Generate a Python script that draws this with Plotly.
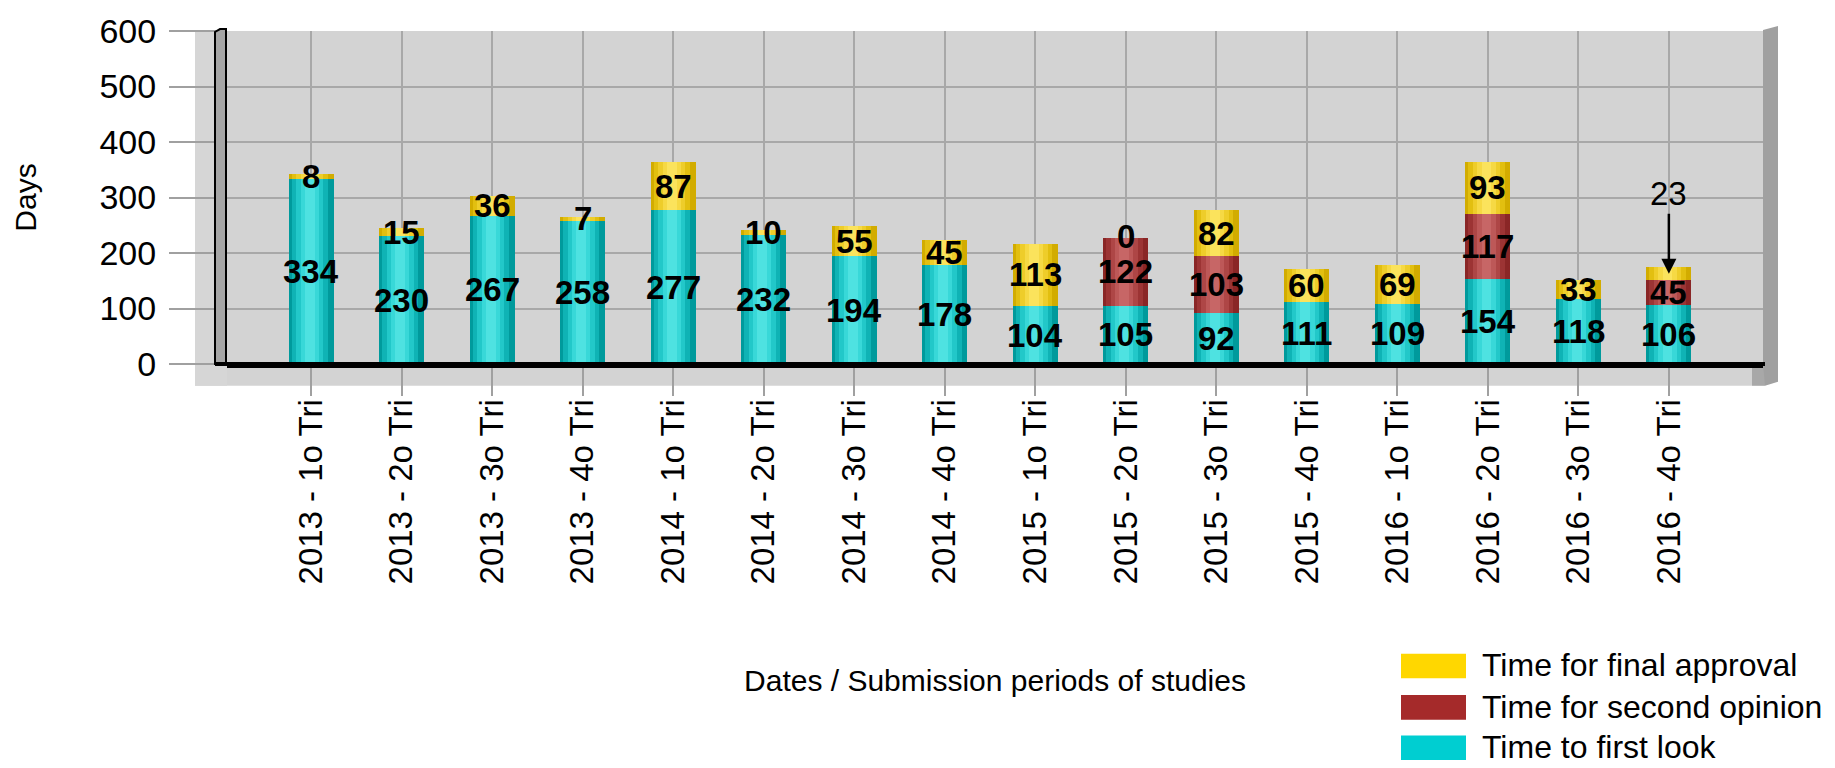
import plotly.graph_objects as go

# ---------------- data ----------------
categories = ["2013 - 1o Tri", "2013 - 2o Tri", "2013 - 3o Tri", "2013 - 4o Tri",
              "2014 - 1o Tri", "2014 - 2o Tri", "2014 - 3o Tri", "2014 - 4o Tri",
              "2015 - 1o Tri", "2015 - 2o Tri", "2015 - 3o Tri", "2015 - 4o Tri",
              "2016 - 1o Tri", "2016 - 2o Tri", "2016 - 3o Tri", "2016 - 4o Tri"]
first_look = [334, 230, 267, 258, 277, 232, 194, 178, 104, 105, 92, 111, 109, 154, 118, 106]
second_opinion = [None, None, None, None, None, None, None, None, None, 122, 103, None, None, 117, None, 45]
final_approval = [8, 15, 36, 7, 87, 10, 55, 45, 113, 0, 82, 60, 69, 93, 33, 23]
y_ticks = [0, 100, 200, 300, 400, 500, 600]

series_names = ["Time to first look", "Time for second opinion", "Time for final approval"]
series_values = [first_look, second_opinion, final_approval]
legend_colors = ["#00CED1", "#A52A2A", "#FFD700"]
# cylinder shading, edge -> centre
shades = [
    ["#009a9c", "#0fb3b5", "#22c8c9", "#38d8d8", "#4ee2e1"],
    ["#8a2626", "#9c3434", "#ae4646", "#bd5858", "#c76666"],
    ["#d2ac00", "#e2bf10", "#eecd2a", "#f6d944", "#fbe35c"],
]
shade_widths = [0.5, 0.40, 0.30, 0.20, 0.11]

# ---------------- geometry (pixels) ----------------
W, H = 1835, 768
L, R, T, B = 227, 1763, 26, 364


def px(x):
    return (x - L) / (R - L)


def py(y):
    return (B - y) / (B - T)


FONT = "Liberation Sans, Arial, sans-serif"

fig = go.Figure()

n = len(categories)
xs = list(range(n))
bases = [0] * n
label_annotations = []
for si, (name, vals) in enumerate(zip(series_names, series_values)):
    seg_x, seg_y, seg_base = [], [], []
    for i, v in enumerate(vals):
        if v is None:
            continue
        seg_x.append(i)
        seg_y.append(v)
        seg_base.append(bases[i])
    for k, (w, c) in enumerate(zip(shade_widths, shades[si])):
        off = -w / 2 - (0.015 if k > 0 else 0)
        fig.add_trace(go.Bar(
            x=seg_x, y=seg_y, base=seg_base, width=w, offset=off,
            marker=dict(color=c, line=dict(width=0)),
            name=name, showlegend=False, hoverinfo="skip"))
    for xi, v, b in zip(seg_x, seg_y, seg_base):
        ann = dict(x=xi, y=b + v / 2, xref="x", yref="y", text=str(v),
                   showarrow=False, yshift=2 if v == 0 else 0,
                   font=dict(family=FONT, size=33, color="black", weight="bold"))
        if si == 2 and xi == n - 1:
            ann.update(showarrow=True, arrowhead=2, arrowsize=1.2, arrowwidth=2.5,
                       arrowcolor="black", ax=0, ay=-80,
                       font=dict(family=FONT, size=33, color="black", weight="normal"))
        label_annotations.append(ann)
    for xi, v in zip(seg_x, seg_y):
        bases[xi] += v

# ---------------- decorative 3-D frame ----------------
shapes = [
    # floor and left side of back panel
    dict(type="rect", xref="paper", yref="paper", x0=px(195), x1=px(1765), y0=py(386), y1=py(364),
         fillcolor="#d3d3d3", line=dict(width=0), layer="below"),
    dict(type="rect", xref="paper", yref="paper", x0=px(195), x1=px(227), y0=py(386), y1=py(27),
         fillcolor="#d6d6d6", line=dict(width=0), layer="below"),
    dict(type="rect", xref="paper", yref="paper", x0=px(1752), x1=px(1765), y0=py(386), y1=py(364),
         fillcolor="#a8a8a8", line=dict(width=0), layer="below"),
    # right wall
    dict(type="path", xref="paper", yref="paper",
         path=f"M {px(1763)} {py(25)} L {px(1778)} {py(21)} L {px(1778)} {py(382)} L {px(1765)} {py(386)} L {px(1763)} {py(364)} Z",
         fillcolor="#a0a0a0", line=dict(width=0), layer="above"),
    # left wall
    dict(type="path", xref="paper", yref="paper",
         path=f"M {px(215)} {py(364)} L {px(215)} {py(27)} L {px(220)} {py(24)} L {px(226)} {py(24)} L {px(226)} {py(364)} Z",
         fillcolor="#a6a6a6", line=dict(color="black", width=2), layer="above"),
    # floor line extension to wall
    dict(type="line", xref="paper", yref="paper", x0=px(215), x1=px(1765), y0=py(364), y1=py(364),
         line=dict(color="black", width=4), layer="above"),
]

# manual legend (wide swatches as in the original)
legend_rows = [(2, 670), (1, 712), (0, 753)]
for si, yc in legend_rows:
    shapes.append(dict(type="rect", xref="paper", yref="paper",
                       x0=px(1401), x1=px(1466), y0=py(yc + 13), y1=py(yc - 12),
                       fillcolor=legend_colors[si], line=dict(width=0), layer="above"))
    label_annotations.append(dict(x=px(1480), y=py(yc), xref="paper", yref="paper",
                                  xanchor="left", yanchor="middle", showarrow=False,
                                  text=series_names[si],
                                  font=dict(family=FONT, size=32, color="black")))

fig.update_layout(
    width=W, height=H,
    margin=dict(l=L, r=W - R, t=T, b=H - B, pad=0),
    paper_bgcolor="white", plot_bgcolor="#d3d3d3",
    barmode="overlay", bargap=0,
    showlegend=False,
    shapes=shapes,
    annotations=label_annotations,
    xaxis=dict(
        range=[-0.93, 16.04], tickmode="array", tickvals=xs, ticktext=categories,
        tickangle=-90, tickfont=dict(family=FONT, size=33, color="black"),
        ticks="outside", ticklen=28, tickwidth=2, tickcolor="#a0a0a0",
        ticklabelstandoff=-10,
        showgrid=True, gridcolor="#a8a8a8", gridwidth=2,
        showline=True, linecolor="black", linewidth=4, zeroline=False,
        title=dict(text="Dates / Submission periods of studies", standoff=88,
                   font=dict(family=FONT, size=30, color="black")),
        fixedrange=True,
    ),
    yaxis=dict(
        range=[0, 600], tickmode="array", tickvals=y_ticks,
        tickfont=dict(family=FONT, size=34, color="black"),
        ticks="outside", ticklen=57, tickwidth=2, tickcolor="#a0a0a0",
        ticklabelstandoff=6,
        showgrid=True, gridcolor="#a8a8a8", gridwidth=2, zeroline=False,
        showline=False,
        title=dict(text="Days", standoff=53, font=dict(family=FONT, size=30, color="black")),
        fixedrange=True,
    ),
)

fig.write_html("out.html", config={"displayModeBar": False},
               post_script="document.body.style.margin='0';document.body.style.overflow='hidden';")
